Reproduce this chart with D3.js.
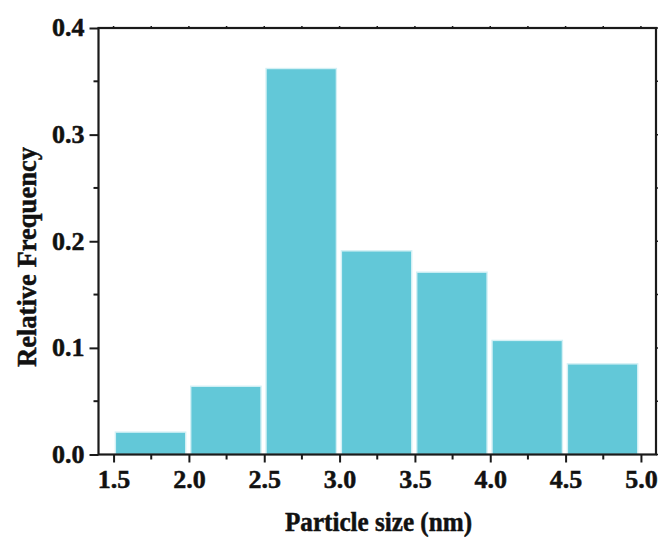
<!DOCTYPE html>
<html>
<head>
<meta charset="utf-8">
<script src="https://cdn.jsdelivr.net/npm/d3@7"></script>
<style>
  html, body { margin: 0; padding: 0; background: #fff; }
  svg { display: block; }
  text { font-family: "Liberation Serif", "Times New Roman", serif; font-weight: bold; fill: #111; stroke: #111; stroke-width: 0.5px; }
</style>
</head>
<body>
<svg id="chart" width="665" height="542"></svg>
<script>
// Histogram bins (nm) and their relative frequencies
const binStarts = [1.5, 2.0, 2.5, 3.0, 3.5, 4.0, 4.5];
const binWidth = 0.5;
const frequencies = [0.021, 0.064, 0.362, 0.191, 0.171, 0.107, 0.085];

const xTicks = [1.5, 2.0, 2.5, 3.0, 3.5, 4.0, 4.5, 5.0];
const yTicks = [0.0, 0.1, 0.2, 0.3, 0.4];
const xTitle = "Particle size (nm)";
const yTitle = "Relative Frequency";

const svg = d3.select("#chart");
const plotLeft = 98.5, plotRight = 656, plotTop = 28, plotBottom = 454.5;

const x = d3.scaleLinear().domain([1.4, 5.1]).range([plotLeft, plotRight]);
const y = d3.scaleLinear().domain([0, 0.4]).range([plotBottom, plotTop]);

const axisColor = "#1a1a1a";

// Bars
const bins = binStarts.map((s, i) => ({ x0: s, x1: s + binWidth, v: frequencies[i] }));
svg.append("g").selectAll("rect").data(bins).join("rect")
  .attr("x", d => x(d.x0) + 1.8)
  .attr("width", d => x(d.x1) - x(d.x0) - 5)
  .attr("y", d => y(d.v))
  .attr("height", d => y(0) - y(d.v))
  .attr("fill", "#62c8d8")
  .attr("stroke", "#d3f0f5")
  .attr("stroke-width", 1.4);

// Minor tick values
const xMinor = d3.range(1.75, 5.0, 0.5);
const yMinor = d3.range(0.05, 0.4, 0.1);

// Bottom axis
const gx = svg.append("g").attr("transform", `translate(0,${plotBottom})`);
gx.call(d3.axisBottom(x).tickValues(xTicks).tickSize(8).tickPadding(8)
    .tickFormat(d3.format(".1f")))
  .call(g => g.select(".domain").remove());
gx.selectAll(".tick line").attr("stroke", axisColor).attr("stroke-width", 2);
gx.selectAll(".tick text").attr("font-size", 26).attr("font-family", null)
  .attr("fill", "#111").attr("dy", "0.71em").attr("y", 15);
svg.append("g").attr("transform", `translate(0,${plotBottom})`)
  .selectAll("line").data(xMinor).join("line")
  .attr("x1", d => x(d)).attr("x2", d => x(d))
  .attr("y1", 0).attr("y2", 5)
  .attr("stroke", axisColor).attr("stroke-width", 2);

// Left axis
const gy = svg.append("g").attr("transform", `translate(${plotLeft},0)`);
gy.call(d3.axisLeft(y).tickValues(yTicks).tickSize(9).tickPadding(4)
    .tickFormat(d3.format(".1f")))
  .call(g => g.select(".domain").remove());
gy.selectAll(".tick line").attr("stroke", axisColor).attr("stroke-width", 2);
gy.selectAll(".tick text").attr("font-size", 26).attr("font-family", null)
  .attr("fill", "#111").attr("x", -14).attr("dy", "0.3em");
svg.append("g").attr("transform", `translate(${plotLeft},0)`)
  .selectAll("line").data(yMinor).join("line")
  .attr("x1", 0).attr("x2", -5)
  .attr("y1", d => y(d)).attr("y2", d => y(d))
  .attr("stroke", axisColor).attr("stroke-width", 2);

// Small ticks on the top and right edges
const allX = xTicks.concat(xMinor);
svg.append("g").selectAll("line").data(allX).join("line")
  .attr("x1", d => x(d)).attr("x2", d => x(d))
  .attr("y1", plotTop).attr("y2", plotTop - 2)
  .attr("stroke", axisColor).attr("stroke-width", 1.5);
const allY = yTicks.concat(yMinor);
svg.append("g").selectAll("line").data(allY).join("line")
  .attr("x1", plotRight).attr("x2", plotRight + 2)
  .attr("y1", d => y(d)).attr("y2", d => y(d))
  .attr("stroke", axisColor).attr("stroke-width", 1.5);

// Frame
svg.append("rect")
  .attr("x", plotLeft).attr("y", plotTop)
  .attr("width", plotRight - plotLeft).attr("height", plotBottom - plotTop)
  .attr("fill", "none").attr("stroke", axisColor).attr("stroke-width", 2.2);

// Axis titles
svg.append("text")
  .attr("x", 378.5).attr("y", 531)
  .attr("text-anchor", "middle")
  .attr("font-size", 27)
  .attr("textLength", 187).attr("lengthAdjust", "spacingAndGlyphs")
  .text(xTitle);

svg.append("text")
  .attr("transform", "translate(36,257) rotate(-90)")
  .attr("text-anchor", "middle")
  .attr("font-size", 27)
  .attr("textLength", 220).attr("lengthAdjust", "spacingAndGlyphs")
  .text(yTitle);
</script>
</body>
</html>
